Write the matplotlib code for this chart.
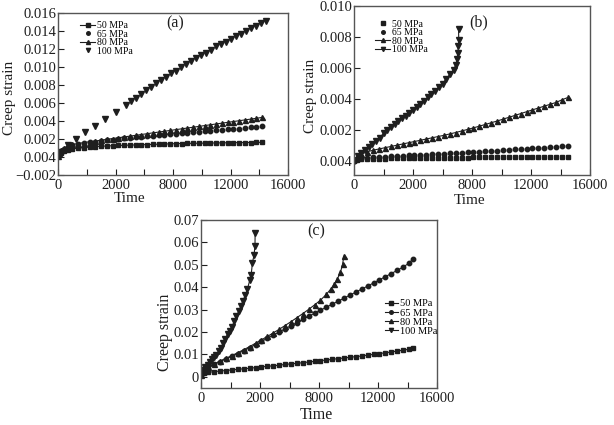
import matplotlib
matplotlib.use("Agg")
from matplotlib import pyplot as plt

plt.rcParams['font.family'] = ['Liberation Serif', 'DejaVu Serif']

# ---------------- panel (a) ----------------
t_a = [0, 100, 200, 400, 700, 1000, 1400, 1800, 2200, 2600, 3000, 3400, 3800, 4200, 4600,
       5000, 5400, 5800, 6200, 6600, 7000, 7400, 7800, 8200, 8600, 9000, 9400, 9800, 10200,
       10600, 11000, 11400, 11800, 12200, 12600, 13000, 13400, 13800, 14200]
a_50 = [0.0001, 0.0004, 0.0005, 0.0007, 0.0008, 0.0009, 0.00098, 0.00104, 0.0011, 0.00115,
        0.0012, 0.00122, 0.00125, 0.00128, 0.0013, 0.00132, 0.00134, 0.00136, 0.00138, 0.0014,
        0.00142, 0.00144, 0.00146, 0.00148, 0.0015, 0.00151, 0.00152, 0.00153, 0.00154, 0.00155,
        0.00156, 0.00157, 0.00158, 0.00159, 0.0016, 0.0016, 0.00161, 0.00162, 0.00163]
a_65 = [0.0001, 0.0005, 0.0007, 0.0009, 0.0011, 0.0013, 0.0014, 0.00152, 0.00162, 0.0017,
        0.00178, 0.00186, 0.00194, 0.002, 0.00207, 0.00213, 0.00219, 0.00225, 0.00231, 0.00237,
        0.00243, 0.00249, 0.00255, 0.00261, 0.00266, 0.00271, 0.00276, 0.00281, 0.00286, 0.00291,
        0.00296, 0.00301, 0.00306, 0.00311, 0.00316, 0.00322, 0.00328, 0.00334, 0.0034]
a_80 = [0.0001, 0.0005, 0.0008, 0.0010, 0.0012, 0.0014, 0.0015, 0.0016, 0.0017, 0.00178,
        0.00187, 0.00196, 0.00205, 0.00214, 0.00223, 0.00232, 0.00241, 0.0025, 0.00259, 0.00268,
        0.00277, 0.00286, 0.00295, 0.00304, 0.00313, 0.00322, 0.00331, 0.0034, 0.00349, 0.00358,
        0.00367, 0.00376, 0.00385, 0.00394, 0.00403, 0.00412, 0.00421, 0.0043, 0.0044]
t_a100 = [0, 200, 670, 1250, 1900, 2570, 3270, 4000, 4700, 5050, 5400, 5750, 6100, 6450, 6800,
          7150, 7500, 7850, 8200, 8550, 8900, 9250, 9600, 9950, 10300, 10650, 11000, 11350,
          11700, 12050, 12400, 12750, 13100, 13450, 13800, 14150, 14500]
a_100 = [0.0002, 0.0006, 0.0013, 0.0020, 0.0028, 0.0035, 0.0042, 0.0050, 0.0058, 0.0062,
         0.0066, 0.0070, 0.0074, 0.0078, 0.0082, 0.0086, 0.0089, 0.0093, 0.0096, 0.0100,
         0.0103, 0.0107, 0.0110, 0.0113, 0.0116, 0.0119, 0.0123, 0.0126, 0.0128, 0.0131,
         0.0134, 0.0137, 0.0140, 0.0143, 0.0146, 0.0149, 0.0151]

# ---------------- panel (b) ----------------
t_b = [0, 200, 500, 900, 1300, 1700, 2100, 2500, 2900, 3300, 3700, 4100, 4500, 4900, 5300,
       5700, 6100, 6500, 6900, 7300, 7700, 8100, 8500, 8900, 9300, 9700, 10100, 10500, 10900,
       11300, 11700, 12100, 12500, 12900, 13300, 13700, 14100, 14500]
b_50 = [0.0, 0.00005, 0.0001, 0.00012, 0.00014, 0.00015, 0.00016, 0.00017, 0.00018, 0.00018,
        0.00019, 0.00019, 0.0002, 0.0002, 0.0002, 0.00021, 0.00021, 0.00021, 0.00022, 0.00022,
        0.00022, 0.00023, 0.00023, 0.00023, 0.00023, 0.00024, 0.00024, 0.00024, 0.00024,
        0.00025, 0.00025, 0.00025, 0.00025, 0.00026, 0.00026, 0.00026, 0.00026, 0.00027]
b_65 = [0.0, 0.0001, 0.00017, 0.0002, 0.00023, 0.00026, 0.00028, 0.0003, 0.00032, 0.00034,
        0.00036, 0.00038, 0.0004, 0.00042, 0.00044, 0.00046, 0.00048, 0.0005, 0.00052, 0.00054,
        0.00056, 0.00058, 0.00061, 0.00063, 0.00066, 0.00068, 0.0007, 0.00073, 0.00075, 0.00078,
        0.0008, 0.00083, 0.00085, 0.00087, 0.0009, 0.00092, 0.00095, 0.00097]
b_80 = [0.0001, 0.0003, 0.00045, 0.0006, 0.0007, 0.00078, 0.00086, 0.00094, 0.00102, 0.0011,
        0.00118, 0.00126, 0.00134, 0.00142, 0.0015, 0.00158, 0.00166, 0.00175, 0.00184, 0.00194,
        0.00204, 0.00214, 0.00225, 0.00236, 0.00247, 0.00258, 0.0027, 0.00282, 0.00294, 0.00306,
        0.00318, 0.0033, 0.00342, 0.00354, 0.00366, 0.00378, 0.00395, 0.0041]
t_b100 = [0, 250, 500, 750, 1000, 1250, 1500, 1750, 2000, 2250, 2500, 2750, 3000, 3250, 3500,
          3750, 4000, 4250, 4500, 4750, 5000, 5250, 5500, 5750, 6000, 6250, 6500, 6750, 6900,
          6990, 7040, 7080, 7100, 7090]
b_100 = [0.0, 0.0003, 0.0005, 0.0007, 0.0009, 0.0011, 0.0013, 0.0015, 0.0018, 0.0020, 0.0022,
         0.0024, 0.0026, 0.0028, 0.0029, 0.0031, 0.0033, 0.0035, 0.0037, 0.0039, 0.0041, 0.0043,
         0.0045, 0.0048, 0.0050, 0.0053, 0.0056, 0.0059, 0.0062, 0.0066, 0.0070, 0.0074, 0.0078,
         0.0085]

# ---------------- panel (c) ----------------
t_c = [0, 200, 500, 900, 1300, 1700, 2100, 2500, 2900, 3300, 3700, 4100, 4500, 4900, 5300,
       5700, 6100, 6500, 6900, 7300, 7700, 8100, 8500, 8900, 9300, 9700, 10100, 10500, 10900,
       11300, 11700, 12100, 12500, 12900, 13300, 13700, 14100, 14400]
c_50 = [0.0008, 0.0015, 0.0020, 0.0023, 0.0026, 0.0028, 0.0031, 0.0033, 0.0036, 0.0038, 0.0041,
        0.0044, 0.0047, 0.0049, 0.0052, 0.0055, 0.0058, 0.0060, 0.0063, 0.0066, 0.0069, 0.0072,
        0.0075, 0.0078, 0.0081, 0.0084, 0.0087, 0.0090, 0.0093, 0.0097, 0.0100, 0.0104, 0.0107,
        0.0111, 0.0115, 0.0119, 0.0123, 0.0128]
c_65 = [0.0010, 0.0025, 0.0038, 0.0055, 0.0068, 0.0080, 0.0092, 0.0104, 0.0117, 0.0130, 0.0144,
        0.0158, 0.0172, 0.0186, 0.0200, 0.0214, 0.0228, 0.0242, 0.0256, 0.0270, 0.0284, 0.0297,
        0.0311, 0.0324, 0.0338, 0.0351, 0.0365, 0.0378, 0.0392, 0.0405, 0.0419, 0.0433, 0.0447,
        0.0461, 0.0475, 0.0490, 0.0507, 0.0528]
t_c80 = [0, 200, 500, 900, 1300, 1700, 2100, 2500, 2900, 3300, 3700, 4100, 4500, 4900, 5300,
         5700, 6100, 6500, 6900, 7300, 7700, 8100, 8500, 8800, 9050, 9250, 9450, 9600, 9680]
c_80 = [0.0010, 0.0028, 0.0042, 0.0058, 0.0071, 0.0083, 0.0095, 0.0108, 0.0121, 0.0135, 0.0150,
        0.0165, 0.0180, 0.0196, 0.0212, 0.0229, 0.0246, 0.0264, 0.0282, 0.0301, 0.0321, 0.0342,
        0.0368, 0.0392, 0.0416, 0.0438, 0.0466, 0.0502, 0.0538]
t_c100 = [0, 150, 300, 450, 600, 750, 900, 1050, 1200, 1350, 1500, 1650, 1800, 1950, 2100,
          2250, 2400, 2550, 2700, 2850, 3000, 3150, 3300, 3400, 3490, 3600, 3660, 3670]
c_100 = [0.0015, 0.0030, 0.0042, 0.0054, 0.0066, 0.0078, 0.0088, 0.0098, 0.0113, 0.0130, 0.0150,
         0.0170, 0.0192, 0.0205, 0.0224, 0.0247, 0.0270, 0.0292, 0.0315, 0.0340, 0.0365, 0.0392,
         0.0430, 0.0455, 0.0510, 0.0545, 0.0585, 0.0640]

labels = ["50 MPa", "65 MPa", "80 MPa", "100 MPa"]
markers = ["s", "o", "^", "v"]
msizes = [3.0, 3.2, 3.6, 3.8]
x_ticks = [0, 4000, 8000, 12000, 16000]
x_ticklabels = ["0", "2000", "8000", "12000", "16000"]

ya_ticks = [-0.002, 0.0, 0.002, 0.004, 0.006, 0.008, 0.010, 0.012, 0.014, 0.016]
ya_labels = ["\u22120.002", "0.004", "0.002", "0.004", "0.006", "0.008", "0.010", "0.012",
             "0.014", "0.016"]
yb_ticks = [0.0, 0.002, 0.004, 0.006, 0.008, 0.010]
yb_labels = ["0.004", "0.002", "0.004", "0.006", "0.008", "0.010"]
yc_ticks = [0, 0.01, 0.02, 0.03, 0.04, 0.05, 0.06, 0.07]
yc_labels = ["0", "0.01", "0.02", "0.03", "0.04", "0.05", "0.06", "0.07"]

INK = "#1e1e1e"
W, H = 614, 425
fig = plt.figure(figsize=(W / 100, H / 100), dpi=100)


def make_axes(left, top, right, bottom):
    # pixel box -> figure fraction
    return fig.add_axes([left / W, 1 - bottom / H, (right - left) / W, (bottom - top) / H])


def draw_panel(ax, series, lined, ylim, yticks, yticklabels, tag, tag_xy, leg_kw,
               xlab_xy, ylab_xy, lab_size):
    handles = []
    for (t, v), lab, m, ms, has_line in zip(series, labels, markers, msizes, lined):
        ls = "-" if has_line else "none"
        h, = ax.plot(t, v, ls=ls, lw=0.8, marker=m, ms=ms, color=INK, label=lab)
        handles.append(h)
    ax.set_xlim(0, 16000)
    ax.set_ylim(*ylim)
    ax.set_xticks(x_ticks)
    ax.set_xticklabels(x_ticklabels)
    ax.set_xticks(range(0, 16001, 2000), minor=True)
    ax.set_yticks(yticks)
    ax.set_yticklabels(yticklabels)
    ax.tick_params(which="both", direction="in", length=4, width=0.8, colors=INK,
                   labelsize=10.5, top=False, right=False)
    ax.tick_params(axis="y", pad=1.5)
    ax.tick_params(axis="x", pad=3)
    for sp in ax.spines.values():
        sp.set_color("#555555")
        sp.set_linewidth(1.0)
    ax.set_xlabel("Time", fontsize=lab_size, color=INK, va="center")
    ax.set_ylabel("Creep strain", fontsize=lab_size, color=INK, va="center")
    ax.xaxis.set_label_coords(*xlab_xy)
    ax.yaxis.set_label_coords(*ylab_xy)
    ax.text(tag_xy[0], tag_xy[1], tag, transform=ax.transAxes, fontsize=11.5,
            ha="center", va="center", color=INK)
    ax.legend(handles=handles, frameon=False, handletextpad=0.15, borderpad=0,
              borderaxespad=0, **leg_kw)


ax_a = make_axes(58, 13, 288, 175)
draw_panel(ax_a, [(t_a, a_50), (t_a, a_65), (t_a, a_80), (t_a100, a_100)],
           [True, False, True, False], (-0.002, 0.016), ya_ticks, ya_labels,
           "(a)", (0.51, 0.935),
           dict(loc="upper left", bbox_to_anchor=(0.095, 0.95), fontsize=7,
                handlelength=1.6, labelspacing=-0.05, markerscale=0.8),
           (0.31, -0.142), (-0.213, 0.478), 11)

ax_b = make_axes(354, 6, 590, 175)
draw_panel(ax_b, [(t_b, b_50), (t_b, b_65), (t_b, b_80), (t_b100, b_100)],
           [False, False, True, True], (-0.0009, 0.010), yb_ticks, yb_labels,
           "(b)", (0.527, 0.905),
           dict(loc="upper left", bbox_to_anchor=(0.088, 0.92), fontsize=7,
                handlelength=1.6, labelspacing=-0.05, markerscale=0.8),
           (0.49, -0.148), (-0.186, 0.47), 11)

ax_c = make_axes(201, 220, 437, 388)
draw_panel(ax_c, [(t_c, c_50), (t_c, c_65), (t_c80, c_80), (t_c100, c_100)],
           [True, True, True, True], (-0.005, 0.07), yc_ticks, yc_labels,
           "(c)", (0.49, 0.935),
           dict(loc="upper right", bbox_to_anchor=(1.0, 0.53), fontsize=7.5,
                handlelength=1.3, labelspacing=0.0, markerscale=0.8),
           (0.49, -0.16), (-0.153, 0.333), 11.5)

fig.savefig("out.png", dpi=100)
